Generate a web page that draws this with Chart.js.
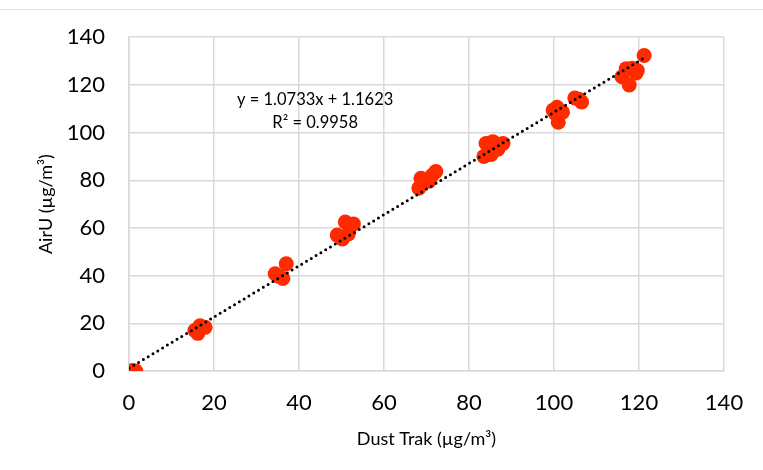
<!DOCTYPE html>
<html>
<head>
<meta charset="utf-8">
<script src="https://cdn.jsdelivr.net/npm/chart.js@4.4.0/dist/chart.umd.min.js"></script>
<style>
  html, body { margin: 0; padding: 0; background: #ffffff; }
  #wrap { width: 763px; height: 470px; position: relative; }
</style>
</head>
<body>
<div id="wrap"><canvas id="scatter"></canvas></div>
<script>
var dustTrak = [
  0.8, 1.6,
  15.5, 16.2, 16.7, 17.9,
  34.4, 35.2, 36.2, 37.0,
  49.0, 50.2, 50.9, 51.6, 52.8,
  68.2, 68.7, 70.6, 71.3, 72.2,
  83.5, 84.0, 85.2, 85.6, 86.8, 88.0,
  99.8, 100.3, 100.7, 101.0, 102.0,
  104.9, 105.8, 106.5,
  116.0, 117.0, 117.7, 118.4, 119.3, 119.6,
  121.2
];
var airU = [
  0.2, 0.0,
  17.0, 15.8, 19.0, 18.3,
  40.8, 39.8, 38.8, 45.0,
  57.0, 55.4, 62.5, 57.5, 61.7,
  76.7, 80.8, 79.6, 82.0, 83.7,
  90.0, 95.4, 90.8, 96.2, 93.0, 95.4,
  109.4, 108.0, 110.6, 104.3, 108.5,
  114.5, 114.0, 112.8,
  123.4, 126.8, 120.0, 127.0, 125.0, 126.0,
  132.3
];

// linear trendline end points
var trendX = [0, 121.5];
var trendY = [1.16, 131.6];

var xTicks = [0, 20, 40, 60, 80, 100, 120, 140];
var yTicks = [0, 20, 40, 60, 80, 100, 120, 140];

var equationLines = ["y = 1.0733x + 1.1623", "R\u00b2 = 0.9958"];

// build point lists for the library
var points = [];
for (var i = 0; i < dustTrak.length; i++) {
  points.push({ x: dustTrak[i], y: airU[i] });
}
var trend = [];
for (var i = 0; i < trendX.length; i++) {
  trend.push({ x: trendX[i], y: trendY[i] });
}

// thin rule on top of the picture and the equation label
var extras = {
  id: "extras",
  beforeDraw: function (chart) {
    var c = chart.ctx;
    c.save();
    c.strokeStyle = "#e2e2e2";
    c.lineWidth = 1;
    c.beginPath();
    c.moveTo(0, 9.5);
    c.lineTo(chart.width, 9.5);
    c.stroke();
    c.restore();
  },
  afterDraw: function (chart) {
    var c = chart.ctx;
    var xs = chart.scales.x, ys = chart.scales.y;
    c.save();
    c.fillStyle = "#000000";
    c.font = "16.5px Lato";
    c.textAlign = "center";
    c.textBaseline = "middle";
    c.fillText(equationLines[0], xs.getPixelForValue(43.8), ys.getPixelForValue(113.7));
    c.fillText(equationLines[1], xs.getPixelForValue(43.8), ys.getPixelForValue(104.2));
    c.restore();
  }
};

var ctx = document.getElementById("scatter").getContext("2d");
var chart = new Chart(ctx, {
  type: "scatter",
  data: {
    datasets: [
      {
        label: "Linear (AirU)",
        type: "line",
        data: trend,
        borderColor: "#000000",
        borderWidth: 3,
        borderDash: [0, 5.6],
        borderCapStyle: "round",
        pointRadius: 0,
        fill: false,
        order: 0
      },
      {
        label: "AirU",
        data: points,
        backgroundColor: "#ff2a00",
        borderWidth: 0,
        pointRadius: 7.5,
        order: 1
      }
    ]
  },
  options: {
    responsive: true,
    maintainAspectRatio: false,
    animation: false,
    layout: {
      padding: { left: 35, right: 39, top: 35, bottom: 20 }
    },
    plugins: {
      legend: { display: false },
      tooltip: { enabled: false }
    },
    scales: {
      x: {
        type: "linear",
        min: 0,
        max: 140,
        afterBuildTicks: function (s) {
          s.ticks = xTicks.map(function (v) { return { value: v }; });
        },
        afterFit: function (s) { s.height = 79; },
        grid: { color: "#d9d9d9", lineWidth: 1.5, drawTicks: false },
        border: { color: "#d9d9d9", width: 1.5 },
        ticks: { color: "#000000", font: { family: "Lato", size: 22 }, padding: 19 },
        title: {
          display: true,
          text: "Dust Trak (\u00b5g/m\u00b3)",
          color: "#000000",
          font: { family: "Lato", size: 18 },
          padding: { top: 0, bottom: 0 }
        }
      },
      y: {
        type: "linear",
        min: 0,
        max: 140,
        afterBuildTicks: function (s) {
          s.ticks = yTicks.map(function (v) { return { value: v }; });
        },
        afterFit: function (s) { s.width = 94; },
        grid: { color: "#d9d9d9", lineWidth: 1.5, drawTicks: false },
        border: { color: "#d9d9d9", width: 1.5 },
        ticks: { color: "#000000", font: { family: "Lato", size: 22 }, padding: 24 },
        title: {
          display: true,
          text: "AirU (\u00b5g/m\u00b3)",
          color: "#000000",
          font: { family: "Lato", size: 18 },
          padding: { top: 0, bottom: 0 }
        }
      }
    }
  },
  plugins: [extras]
});
</script>
</body>
</html>
